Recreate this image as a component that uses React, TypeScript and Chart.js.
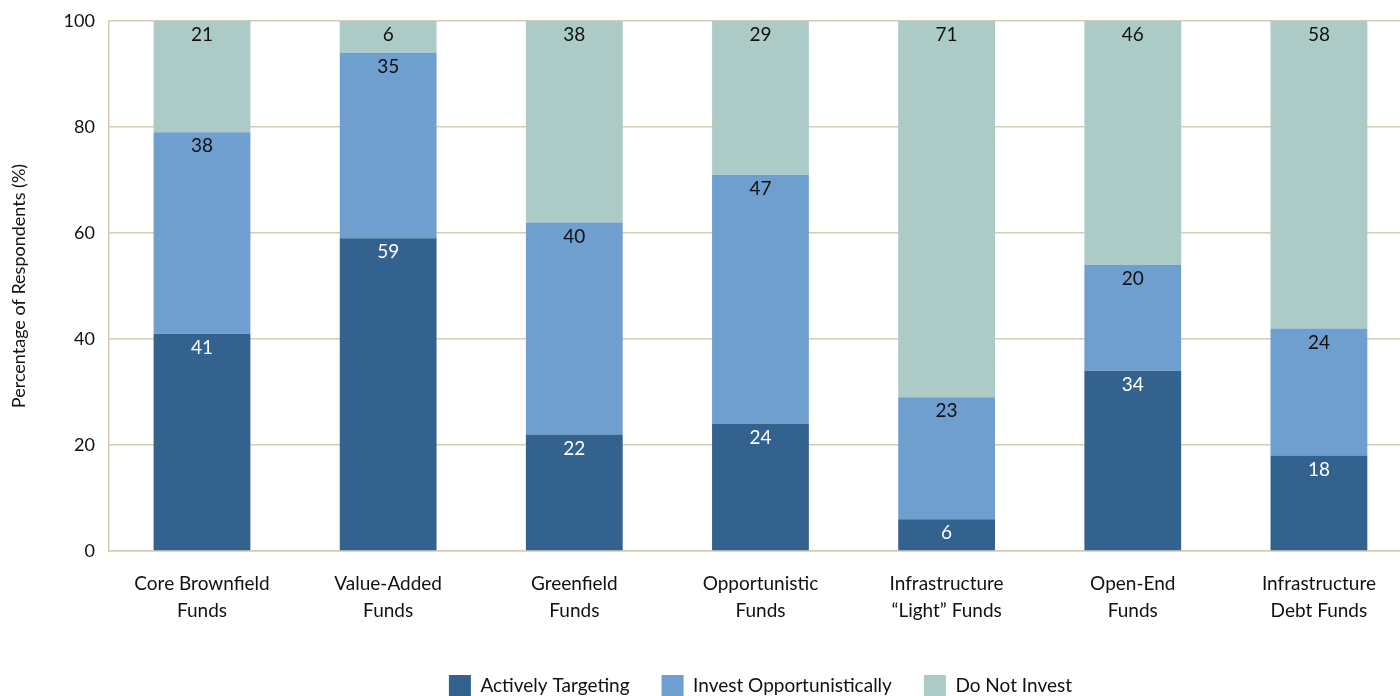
import React, { useEffect, useRef } from "react";
import { Chart, registerables } from "chart.js";

Chart.register(...registerables);

const categories: string[][] = [
  ["Core Brownfield", "Funds"],
  ["Value-Added", "Funds"],
  ["Greenfield", "Funds"],
  ["Opportunistic", "Funds"],
  ["Infrastructure", "\u201CLight\u201D Funds"],
  ["Open-End", "Funds"],
  ["Infrastructure", "Debt Funds"],
];
const activelyTargeting = [41, 59, 22, 24, 6, 34, 18];
const investOpportunistically = [38, 35, 40, 47, 23, 20, 24];
const doNotInvest = [21, 6, 38, 29, 71, 46, 58];
const yTicks = [0, 20, 40, 60, 80, 100];

const FONT = "Lato, 'Noto Sans', sans-serif";
const GRID = "#d6ccb6";

const labelPlugin = {
  id: "segLabels",
  afterDatasetsDraw(chart: any) {
    const ctx = chart.ctx;
    ctx.save();
    ctx.font = `19px ${FONT}`;
    ctx.textAlign = "center";
    ctx.textBaseline = "middle";
    chart.data.datasets.forEach((ds: any, di: number) => {
      const meta = chart.getDatasetMeta(di);
      meta.data.forEach((bar: any, i: number) => {
        const v = ds.data[i];
        ctx.fillStyle = di === 0 ? "#ffffff" : "#111111";
        ctx.fillText(String(v), bar.x, bar.y + 14);
      });
    });
    ctx.restore();
  },
};

export default function App() {
  const ref = useRef<HTMLCanvasElement>(null);
  useEffect(() => {
    document.body.style.margin = "0";
    document.body.style.overflow = "hidden";
    const chart = new Chart(ref.current!, {
      type: "bar",
      data: {
        labels: categories,
        datasets: [
          { label: "Actively Targeting", data: activelyTargeting, backgroundColor: "#33628f" },
          { label: "Invest Opportunistically", data: investOpportunistically, backgroundColor: "#6f9fcf" },
          { label: "Do Not Invest", data: doNotInvest, backgroundColor: "#adcbc6" },
        ],
      },
      options: {
        responsive: false,
        animation: false,
        layout: { padding: { top: 21, right: 0, left: 8, bottom: -11 } },
        datasets: { bar: { categoryPercentage: 1, barPercentage: 0.52 } },
        scales: {
          x: {
            stacked: true,
            grid: { display: false },
            border: { color: GRID, width: 1.5 },
            afterFit: (scale: any) => {
              scale.height += 8;
            },
            ticks: {
              color: "#111",
              font: { family: FONT, size: 19, lineHeight: "27px" },
              padding: 11,
              maxRotation: 0,
            },
          },
          y: {
            stacked: true,
            min: 0,
            max: 100,
            afterBuildTicks: (axis: any) => {
              axis.ticks = yTicks.map((v) => ({ value: v }));
            },
            afterFit: (scale: any) => {
              scale.paddingTop = 0;
              scale.paddingBottom = 0;
            },
            grid: { color: GRID, lineWidth: 1.5, drawTicks: false },
            border: { color: GRID, width: 1.5 },
            ticks: {
              color: "#111",
              font: { family: FONT, size: 18 },
              padding: 14,
            },
            title: {
              display: true,
              text: "Percentage of Respondents (%)",
              color: "#111",
              font: { family: FONT, size: 18 },
              padding: { top: 0, bottom: 20 },
            },
          },
        },
        plugins: {
          legend: {
            position: "bottom",
            fullSize: false,
            labels: {
              color: "#111",
              font: { family: FONT, size: 19 },
              boxWidth: 22,
              boxHeight: 22,
              padding: 32,
            },
          },
          tooltip: { enabled: false },
        },
      },
      plugins: [labelPlugin],
    });
    return () => chart.destroy();
  }, []);
  return (
    <div style={{ position: "fixed", left: 0, top: 0, width: 1400, height: 696, overflow: "hidden", background: "#fff" }}>
      <canvas ref={ref} width={1412} height={696} style={{ display: "block" }} />
    </div>
  );
}
